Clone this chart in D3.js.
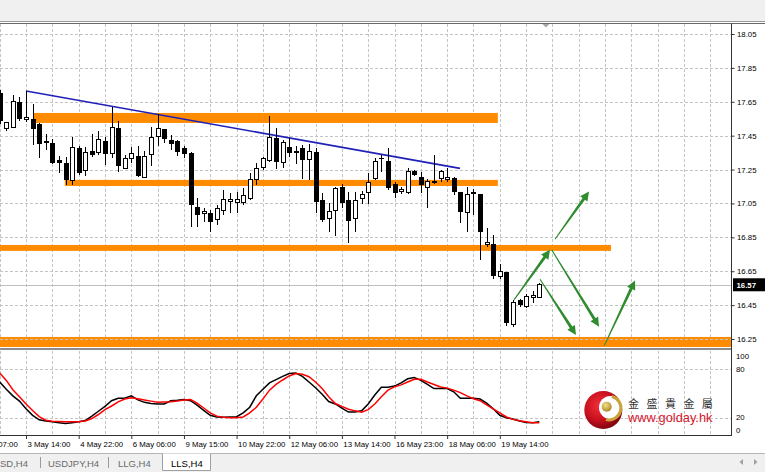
<!DOCTYPE html>
<html><head><meta charset="utf-8">
<script src="https://cdn.jsdelivr.net/npm/d3@7"></script>
<style>html,body{margin:0;padding:0;background:#fff;overflow:hidden}svg{display:block}</style>
</head><body>
<svg id="c" width="765" height="472"></svg>
<script>
// ---------------- DATA ----------------
const opens = [17.696,17.495,17.501,17.643,17.543,17.543,17.513,17.407,17.401,17.301,
  17.283,17.183,17.372,17.242,17.354,17.348,17.413,17.342,17.495,17.259,
  17.318,17.330,17.206,17.336,17.448,17.484,17.419,17.413,17.372,17.342,
  17.029,16.988,16.988,16.953,17.006,17.059,17.053,17.053,17.082,17.194,
  17.265,17.301,17.431,17.289,17.383,17.351,17.372,17.307,17.348,17.065,
  16.964,17.006,17.147,17.065,16.959,17.082,17.112,17.200,17.313,17.295,
  17.159,17.118,17.112,17.236,17.206,17.147,17.174,17.200,17.189,17.200,
  17.112,16.994,17.109,17.100,16.805,16.805,16.616,16.640,16.333,16.475,
  16.439,16.492,16.495];
const highs = [17.720,17.531,17.690,17.678,17.714,17.637,17.525,17.460,17.431,17.330,
  17.324,17.442,17.389,17.383,17.460,17.478,17.442,17.619,17.537,17.336,
  17.383,17.389,17.360,17.501,17.578,17.490,17.454,17.425,17.389,17.354,
  17.082,17.023,17.012,17.041,17.130,17.112,17.118,17.141,17.230,17.289,
  17.324,17.566,17.495,17.425,17.436,17.389,17.395,17.401,17.377,17.112,
  17.053,17.147,17.165,17.118,17.118,17.124,17.230,17.318,17.336,17.377,
  17.177,17.147,17.259,17.248,17.236,17.194,17.336,17.248,17.259,17.206,
  17.118,17.147,17.135,17.106,16.905,16.864,16.693,16.646,16.481,16.487,
  16.516,16.534,16.581];
const lows = [17.519,17.478,17.495,17.537,17.531,17.395,17.318,17.366,17.283,17.230,
  17.159,17.159,17.218,17.212,17.324,17.336,17.277,17.318,17.236,17.254,
  17.289,17.206,17.200,17.271,17.389,17.407,17.366,17.330,17.318,16.911,
  16.911,16.941,16.882,16.923,16.982,16.994,16.994,17.041,17.071,17.159,
  17.248,17.295,17.254,17.259,17.324,17.283,17.194,17.189,16.994,16.941,
  16.882,16.858,17.023,16.817,16.882,17.047,17.047,17.189,17.236,17.130,
  17.082,17.106,17.106,17.212,17.112,17.023,17.165,17.177,17.177,17.100,
  16.935,16.882,16.982,16.717,16.793,16.605,16.605,16.327,16.321,16.439,
  16.433,16.463,16.490];
const closes = [17.537,17.525,17.649,17.554,17.560,17.495,17.401,17.413,17.289,17.289,
  17.194,17.383,17.230,17.348,17.336,17.425,17.342,17.501,17.271,17.313,
  17.342,17.212,17.330,17.442,17.490,17.436,17.401,17.354,17.342,17.041,
  16.982,17.000,16.941,17.023,17.071,17.071,17.071,17.094,17.189,17.259,
  17.313,17.442,17.295,17.407,17.348,17.357,17.307,17.354,17.059,16.953,
  17.000,17.141,17.053,16.947,17.065,17.100,17.171,17.295,17.318,17.147,
  17.112,17.130,17.236,17.218,17.159,17.177,17.180,17.236,17.206,17.118,
  17.000,17.100,17.115,16.882,16.817,16.622,16.646,16.345,16.463,16.451,
  16.498,16.504,16.570];
const stochMain = [64,55,47,40.5,31,23,17.5,16,15,14,
  13,14,15,16.5,22,28,34,41,44,44,
  47,42,39,37.5,37,37,41,41.5,42.5,41,
  35.5,29,23,21,20.5,21,21.3,26,33,47,
  55,63,67,71,74.5,75,71,64,57,49,
  40,37,32,27,27,28.5,37,48,57.5,57.5,
  59,63,68,69.5,66,61,56,56,56,52,
  44,44,44,43,38,31,23,20,18.5,16,
  14.2,14,15];
const stochSignal = [75,66,54.5,46,37,29,21.5,17,15.8,15.5,
  15.2,15.2,15.2,16,19,24,30,34.5,39.5,43,
  44.5,43.5,42,40.5,39,39.3,39.7,40.5,42,42.5,
  38,32,26,22,20.5,20,20,21,26,33,
  43,54,61,66.5,71.5,74.5,73.5,70.5,64,56,
  46,37.5,34,30.5,28.5,26.8,30,37,46,54,
  58,60.5,64,67.5,67.5,64,61,58,56.5,54,
  51,47,43.5,41,36,31,26,21,18,16.2,
  15,13.8,14];
const priceTicks = [18.05,17.85,17.65,17.45,17.25,17.05,16.85,16.65,16.45,16.25];
const timeTickIdx = [-4,4,12,20,28,36,44,52,60,68,76];
const timeTickLabels = ["2 May 07:00","3 May 14:00","4 May 22:00","6 May 06:00","9 May 15:00","10 May 22:00","12 May 06:00","13 May 14:00","16 May 23:00","18 May 06:00","19 May 14:00"];
const lastPrice = 16.57;
// support / resistance zones: [fromBar, toBar, upperPrice, lowerPrice]
const zoneFrom  = [5.06, 9.9, -2, -2];
const zoneTo    = [75.7, 75.7, 92.9, 112];
const zoneUpper = [17.584, 17.189, 16.805, 16.262];
const zoneLower = [17.525, 17.153, 16.770, 16.203];
// trend line [bar, price] -> [bar, price]
const trendFrom = [4, 17.714];
const trendTo   = [69.95, 17.257];
// projection arrows: start bar, start price, end bar, end price
const arrowBar0   = [78.16, 84.39, 83.89, 82.11, 91.88];
const arrowPrice0 = [16.481, 16.839, 16.776, 16.603, 16.211];
const arrowBar1   = [83.63, 89.56, 91.08, 87.58, 96.55];
const arrowPrice1 = [16.776, 17.120, 16.323, 16.274, 16.595];
const stochLevels = [80, 20];
const stochLabels = [100, 80, 20, 0];
const tabs = ["SD,H4", "USDJPY,H4", "LLG,H4", "LLS,H4"];

// ---------------- LAYOUT ----------------
const W = 765, H = 472, PR = 731;
const mainTop = 23.5, mainBot = 348, indTop = 351, indBot = 435;
const FONT = "'Liberation Sans', Arial, sans-serif";
const svg = d3.select("#c");

const x = d3.scaleLinear().domain([0, 111]).range([-0.3, 730.1]);
const y = d3.scaleLinear().domain([16.25, 18.05]).range([339, 34]);
const yi = d3.scaleLinear().domain([0, 100]).range([434, 352.8]);

const defs = svg.append("defs");
defs.append("clipPath").attr("id","clipMain").append("rect")
  .attr("x",0).attr("y",mainTop+0.5).attr("width",PR).attr("height",mainBot-mainTop-0.5);
defs.append("clipPath").attr("id","clipInd").append("rect")
  .attr("x",0).attr("y",indTop).attr("width",PR).attr("height",indBot-indTop);
const rg = defs.append("radialGradient").attr("id","redBall").attr("cx","40%").attr("cy","38%").attr("r","65%");
rg.append("stop").attr("offset","0%").attr("stop-color","#f2303a");
rg.append("stop").attr("offset","60%").attr("stop-color","#c8101e");
rg.append("stop").attr("offset","100%").attr("stop-color","#7a0410");
const gg = defs.append("radialGradient").attr("id","goldBall").attr("cx","40%").attr("cy","35%").attr("r","70%");
gg.append("stop").attr("offset","0%").attr("stop-color","#f4e08a");
gg.append("stop").attr("offset","100%").attr("stop-color","#a88420");

svg.append("rect").attr("width",W).attr("height",H).attr("fill","#fff");
// top toolbar strip
svg.append("rect").attr("x",0).attr("y",0).attr("width",W).attr("height",21).attr("fill","#f0f0f0");
svg.append("line").attr("x1",0).attr("x2",W).attr("y1",21.5).attr("y2",21.5).attr("stroke","#9a9a9a");
svg.append("line").attr("x1",0).attr("x2",W).attr("y1",23.5).attr("y2",23.5).attr("stroke","#6a6a6a");

// ---------------- MAIN PANE ----------------
const main = svg.append("g").attr("clip-path","url(#clipMain)");
const vIdx = d3.range(0, 112, 4);
const gridStyle = s => s.attr("stroke","#c4c4c4").attr("stroke-width",1).attr("stroke-dasharray","3,2").attr("shape-rendering","crispEdges");
main.selectAll("line.vg").data(vIdx).join("line").attr("class","vg")
  .attr("x1",d=>Math.round(x(d))+0.5).attr("x2",d=>Math.round(x(d))+0.5)
  .attr("y1",mainTop).attr("y2",mainBot).call(gridStyle);

// zones
main.selectAll("rect.zone").data(zoneFrom).join("rect").attr("class","zone")
  .attr("x",(d,i)=>x(d)).attr("width",(d,i)=>x(zoneTo[i])-x(d))
  .attr("y",(d,i)=>y(zoneUpper[i])).attr("height",(d,i)=>y(zoneLower[i])-y(zoneUpper[i]))
  .attr("fill","#ff8c00");

main.selectAll("line.hg").data(priceTicks).join("line").attr("class","hg")
  .attr("x1",0).attr("x2",PR)
  .attr("y1",d=>Math.round(y(d))+0.5).attr("y2",d=>Math.round(y(d))+0.5).call(gridStyle);

// last price line
main.append("line").attr("x1",0).attr("x2",PR)
  .attr("y1",Math.round(y(lastPrice))+0.5).attr("y2",Math.round(y(lastPrice))+0.5)
  .attr("stroke","#c0c0c0").attr("shape-rendering","crispEdges");

// trend line
main.append("line")
  .attr("x1",x(trendFrom[0])).attr("y1",y(trendFrom[1]))
  .attr("x2",x(trendTo[0])).attr("y2",y(trendTo[1]))
  .attr("stroke","#2020b8").attr("stroke-width",1.6);

// candles
const bars = opens.map((o,i)=>({i, o, h:highs[i], l:lows[i], c:closes[i]}));
const cx = d => Math.round(x(d.i)) + 0.5;
main.selectAll("line.wick").data(bars).join("line").attr("class","wick")
  .attr("x1",cx).attr("x2",cx).attr("y1",d=>y(d.h)).attr("y2",d=>y(d.l))
  .attr("stroke","#000").attr("stroke-width",1).attr("shape-rendering","crispEdges");
main.selectAll("rect.body").data(bars).join("rect").attr("class","body")
  .attr("x",d=>cx(d)-2).attr("width",4)
  .attr("y",d=>y(Math.max(d.o,d.c))).attr("height",d=>Math.abs(y(d.o)-y(d.c)))
  .attr("fill",d=>d.c>=d.o?"#fff":"#000").attr("stroke","#000").attr("stroke-width",1)
  .attr("shape-rendering","crispEdges");

// arrows
const arrowCol = "#2f8c2f";
arrowBar0.forEach((b0,i)=>{
  const x0 = x(b0), y0 = y(arrowPrice0[i]), x1 = x(arrowBar1[i]), y1 = y(arrowPrice1[i]);
  const dx = x1-x0, dy = y1-y0, L = Math.hypot(dx,dy), ux = dx/L, uy = dy/L, nx = -uy, ny = ux;
  const hl = 9, hw = 4.5, w0 = 0.5, w1 = 1.5;
  const bx = x1-ux*hl, by = y1-uy*hl;
  const pts = [[x0+nx*w0,y0+ny*w0],[bx+nx*w1,by+ny*w1],[bx+nx*hw,by+ny*hw],[x1,y1],
               [bx-nx*hw,by-ny*hw],[bx-nx*w1,by-ny*w1],[x0-nx*w0,y0-ny*w0]];
  main.append("path").attr("d","M"+pts.map(p=>p.join(",")).join("L")+"Z").attr("fill",arrowCol);
});

// chart-shift marker
svg.append("path").attr("d",`M${x(83)-3.5},24 L${x(83)+3.5},24 L${x(83)},27.5Z`).attr("fill","#a8a8a8");

// borders
svg.append("line").attr("x1",PR+0.5).attr("x2",PR+0.5).attr("y1",mainTop).attr("y2",indBot+0.5).attr("stroke","#333");
svg.append("rect").attr("x",0).attr("y",mainBot).attr("width",PR).attr("height",2).attr("fill","#8c8c8c");
svg.append("line").attr("x1",0).attr("x2",PR+1).attr("y1",indBot+0.5).attr("y2",indBot+0.5).attr("stroke","#333");

// price axis
const yAxis = d3.axisRight(y).tickValues(priceTicks).tickSize(3).tickPadding(2.5).tickFormat(d3.format(".2f"));
const gy = svg.append("g").attr("transform",`translate(${PR+0.5},0)`).call(yAxis);
gy.select(".domain").remove();
gy.selectAll("line").attr("stroke","#333");
gy.selectAll("text").attr("font-family",FONT).attr("font-size",7.8).attr("fill","#000");

// last price label
svg.append("rect").attr("x",PR+2).attr("y",y(lastPrice)-6.5).attr("width",W-PR-2).attr("height",13).attr("fill","#000");
svg.append("text").attr("x",PR+5.5).attr("y",y(lastPrice)).attr("dy","0.35em")
  .attr("font-family",FONT).attr("font-size",7.8).attr("font-weight","bold").attr("fill","#fff")
  .text(d3.format(".2f")(lastPrice));

// ---------------- INDICATOR PANE ----------------
const ind = svg.append("g").attr("clip-path","url(#clipInd)");
ind.selectAll("line.vg").data(vIdx).join("line").attr("class","vg")
  .attr("x1",d=>Math.round(x(d))+0.5).attr("x2",d=>Math.round(x(d))+0.5)
  .attr("y1",indTop).attr("y2",indBot).call(gridStyle);
ind.selectAll("line.hg").data(stochLevels).join("line").attr("class","hg")
  .attr("x1",0).attr("x2",PR)
  .attr("y1",d=>Math.round(yi(d))+0.5).attr("y2",d=>Math.round(yi(d))+0.5).call(gridStyle);
const sLine = d3.line().x((d,i)=>x(i)).y(d=>yi(d));
ind.append("path").attr("d",sLine(stochMain)).attr("fill","none").attr("stroke","#000").attr("stroke-width",1.5);
ind.append("path").attr("d",sLine(stochSignal)).attr("fill","none").attr("stroke","#ff0000").attr("stroke-width",1.5);

svg.selectAll("text.il").data(stochLabels).join("text").attr("class","il")
  .attr("x",PR+5).attr("y",d=>Math.min(Math.max(yi(d), indTop+5.5), indBot-5)).attr("dy","0.35em")
  .attr("font-family",FONT).attr("font-size",7.8).attr("fill","#000").text(d=>d);

// time axis
const xAxis = d3.axisBottom(x).tickValues(timeTickIdx).tickSize(4).tickFormat((d,i)=>timeTickLabels[i]);
const gx = svg.append("g").attr("transform",`translate(0,${indBot})`).call(xAxis);
gx.select(".domain").remove();
gx.selectAll("line").attr("stroke","#333");
gx.selectAll("text").attr("text-anchor","start").attr("x",1).attr("y",6)
  .attr("font-family",FONT).attr("font-size",7.8).attr("fill","#000");

// ---------------- LOGO ----------------
const logo = svg.append("g");
logo.append("circle").attr("cx",603.3).attr("cy",410).attr("r",19).attr("fill","url(#redBall)");
logo.append("circle").attr("cx",610.5).attr("cy",407.5).attr("r",11.5).attr("fill","#fff");
logo.append("path").attr("d","M612,396.5 A11.5,11.5 0 0 1 606,419.5").attr("fill","none")
  .attr("stroke","#c9a23a").attr("stroke-width",3);
logo.append("circle").attr("cx",606.7).attr("cy",406.7).attr("r",5).attr("fill","url(#goldBall)");
logo.append("text").attr("x",628).attr("y",408).attr("font-family","'Noto Sans CJK TC','Noto Sans CJK SC',sans-serif")
  .attr("font-size",11).attr("letter-spacing",2.5).attr("fill","#333").style("white-space","pre").text("金 盛 貴 金 屬");
logo.append("text").attr("x",628).attr("y",421.5).attr("font-family",FONT)
  .attr("font-size",12.8).attr("fill","#d8142c").text("www.golday.hk");

// ---------------- TABS ----------------
svg.append("rect").attr("x",0).attr("y",453).attr("width",W).attr("height",H-453).attr("fill","#f0f0f0");
svg.append("line").attr("x1",0).attr("x2",W).attr("y1",453.5).attr("y2",453.5).attr("stroke","#b4b4b4");
svg.append("path").attr("d","M162.5,453.5 V470.5 H210.5 V453.5").attr("fill","#fff").attr("stroke","#a0a0a0");
const tabX = [0, 48, 118, 171];
svg.selectAll("text.tab").data(tabs).join("text").attr("class","tab")
  .attr("x",(d,i)=>tabX[i]).attr("y",466.5).attr("font-family",FONT).attr("font-size",9.5)
  .attr("fill",(d,i)=>i===3?"#000":"#6a6a6a").text(d=>d);
[40.5,108.5].forEach(sx=>svg.append("line").attr("x1",sx).attr("x2",sx).attr("y1",457).attr("y2",468).attr("stroke","#9a9a9a"));
svg.append("path").attr("d","M743,459 L739.5,462 L743,465Z").attr("fill","#a0a0a0");
svg.append("path").attr("d","M754,459 L757.5,462 L754,465Z").attr("fill","#a0a0a0");
</script>
</body></html>
